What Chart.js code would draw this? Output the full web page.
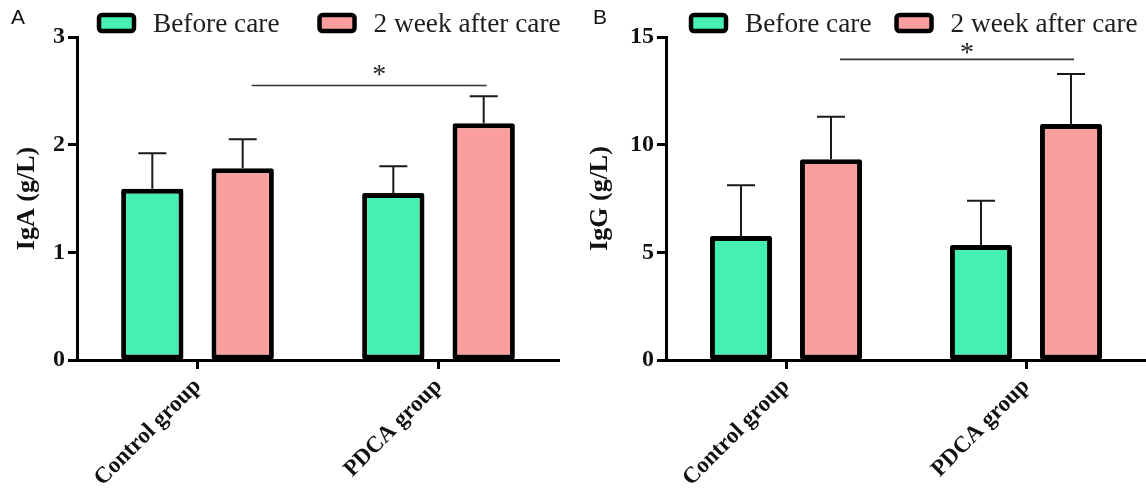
<!DOCTYPE html>
<html>
<head>
<meta charset="utf-8">
<script src="https://cdn.jsdelivr.net/npm/chart.js@4"></script>
<style>
  body { margin: 0; background: #fff; }
  .panel { position: absolute; top: 0; width: 573px; height: 490px; }
  .letter { position: absolute; top: 5px; font-family: "Liberation Sans", Arial, sans-serif; font-size: 21px; color: #111; }
</style>
</head>
<body>
<div class="panel" style="left:0"><canvas id="chartA" width="573" height="490"></canvas><div class="letter" style="left:11px">A</div></div>
<div class="panel" style="left:573px"><canvas id="chartB" width="573" height="490"></canvas><div class="letter" style="left:20px">B</div></div>
<script>
const groups = ['Control group', 'PDCA group'];
const seriesNames = ['Before care', '2 week after care'];
const seriesColors = ['#44F1B0', '#FB9E9E'];

// IgA (g/L)
const igaBefore = [1.59, 1.55];
const igaAfter = [1.78, 2.20];
const igaBeforeErr = [0.33, 0.25];
const igaAfterErr = [0.27, 0.25];
const igaTicks = { max: 3, step: 1 };
const igaSig = { line: 2.55, star: 2.70 };

// IgG (g/L)
const iggBefore = [5.76, 5.34];
const iggAfter = [9.32, 10.96];
const iggBeforeErr = [2.35, 2.06];
const iggAfterErr = [1.98, 2.32];
const iggTicks = { max: 15, step: 5 };
const iggSig = { line: 13.96, star: 14.55 };

const serif = '"Liberation Serif", "Times New Roman", serif';

// error bars, significance line and the legend row
const extrasPlugin = {
  id: 'extras',
  afterDatasetsDraw(chart) {
    const o = chart.options.plugins.extras;
    const ctx = chart.ctx;
    const y = chart.scales.y;
    ctx.save();
    ctx.strokeStyle = '#1a1a1a';
    ctx.lineWidth = 2;
    chart.data.datasets.forEach((ds, i) => {
      chart.getDatasetMeta(i).data.forEach((bar, j) => {
        const top = y.getPixelForValue(ds.data[j] + o.errors[i][j]);
        ctx.beginPath();
        ctx.moveTo(bar.x, bar.y);
        ctx.lineTo(bar.x, top);
        ctx.moveTo(bar.x - 14, top);
        ctx.lineTo(bar.x + 14, top);
        ctx.stroke();
      });
    });

    // significance bracket between the two "after" bars
    const after = chart.getDatasetMeta(1).data;
    const x1 = after[0].x + 9;
    const x2 = after[1].x + 3;
    const ly = y.getPixelForValue(o.sig.line);
    ctx.strokeStyle = '#333';
    ctx.lineWidth = 1.6;
    ctx.beginPath();
    ctx.moveTo(x1, ly);
    ctx.lineTo(x2, ly);
    ctx.stroke();
    ctx.fillStyle = '#222';
    ctx.font = '28px ' + serif;
    ctx.textAlign = 'center';
    ctx.textBaseline = 'alphabetic';
    ctx.fillText('*', (x1 + x2) / 2 + 10, y.getPixelForValue(o.sig.star) + 14);
    ctx.restore();
  },
  afterDraw(chart) {
    const o = chart.options.plugins.extras;
    const ctx = chart.ctx;
    ctx.save();
    ctx.font = '27.3px ' + serif;
    ctx.textAlign = 'left';
    ctx.textBaseline = 'alphabetic';
    let x = o.legendX;
    chart.data.datasets.forEach((ds) => {
      ctx.fillStyle = ds.backgroundColor;
      ctx.strokeStyle = '#000';
      ctx.lineWidth = 4.5;
      ctx.beginPath();
      ctx.roundRect(x + 2, 15, 35, 16, 3);
      ctx.fill();
      ctx.stroke();
      ctx.fillStyle = '#1e1e1e';
      ctx.fillText(ds.label, x + 56, 32);
      x += 56 + ctx.measureText(ds.label).width + o.legendGap;
    });
    ctx.restore();
  }
};

function makeChart(id, before, after, beforeErr, afterErr, ticks, sig, title, axisWidth, padRight, legendX, legendGap) {
  return new Chart(document.getElementById(id), {
    type: 'bar',
    data: {
      labels: groups,
      datasets: [
        { label: seriesNames[0], data: before, backgroundColor: seriesColors[0] },
        { label: seriesNames[1], data: after, backgroundColor: seriesColors[1] }
      ]
    },
    options: {
      responsive: false,
      animation: false,
      layout: { padding: { top: 37, right: padRight, left: 0, bottom: 0 } },
      datasets: {
        bar: {
          borderColor: '#000',
          borderWidth: 5,
          borderSkipped: false,
          borderRadius: 2,
          categoryPercentage: 0.75,
          barPercentage: 0.69
        }
      },
      plugins: {
        legend: { display: false },
        tooltip: { enabled: false },
        extras: {
          errors: [beforeErr, afterErr],
          sig: sig,
          legendX: legendX,
          legendGap: legendGap
        }
      },
      scales: {
        x: {
          grid: { drawOnChartArea: false, tickLength: 9, tickWidth: 3, tickColor: '#000', offset: false },
          border: { color: '#000', width: 3 },
          ticks: {
            font: { family: serif, size: 23, weight: 'bold' },
            color: '#111', minRotation: 45, maxRotation: 45, autoSkip: false, padding: 4
          },
          afterFit: (s) => { s.height = 130; }
        },
        y: {
          min: 0,
          max: ticks.max,
          grid: { drawOnChartArea: false, tickLength: 9, tickWidth: 3, tickColor: '#000' },
          border: { color: '#000', width: 3 },
          ticks: { stepSize: ticks.step, font: { family: serif, size: 24, weight: 'bold' }, color: '#111', padding: 3 },
          title: {
            display: true,
            text: title,
            font: { family: serif, size: 26, weight: 'bold' },
            color: '#111',
            padding: { top: 12, bottom: 0 }
          },
          afterFit: (s) => { s.width = axisWidth; }
        }
      }
    },
    plugins: [extrasPlugin]
  });
}

makeChart('chartA', igaBefore, igaAfter, igaBeforeErr, igaAfterErr, igaTicks, igaSig, 'IgA (g/L)', 77, 14, 97, 38);
makeChart('chartB', iggBefore, iggAfter, iggBeforeErr, iggAfterErr, iggTicks, iggSig, 'IgG (g/L)', 93, 0, 116, 23);
</script>
</body>
</html>
